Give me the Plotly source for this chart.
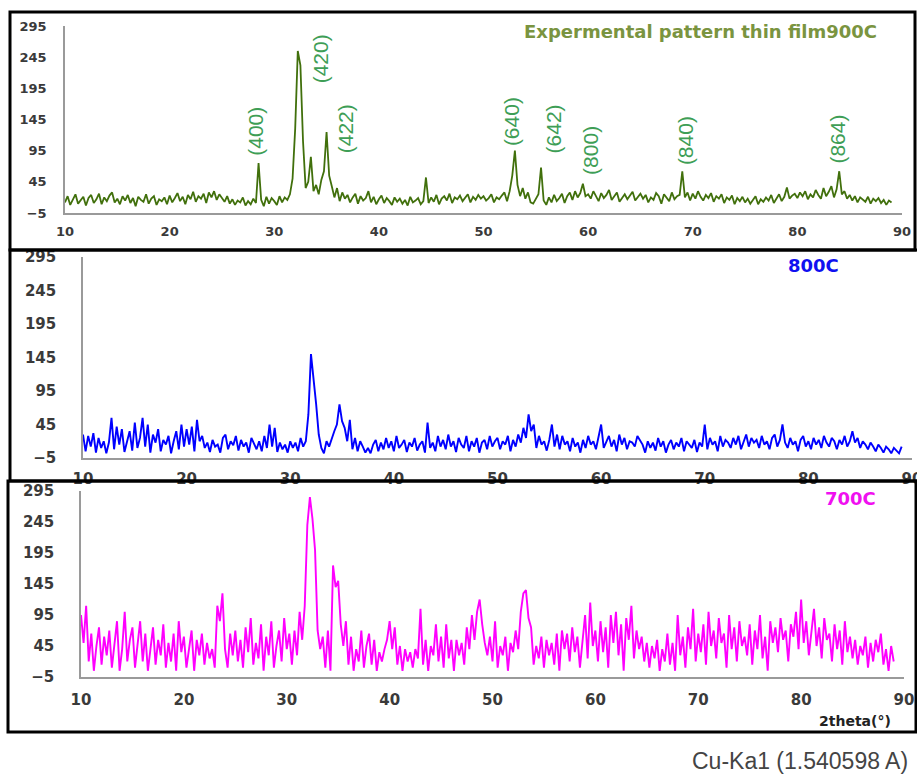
import plotly.graph_objects as go

W, H = 917, 776

# 2theta sampling grid (deg), step 0.25 from 10 to 89
two_theta_start = 10.0
two_theta_step = 0.25

i_900 = [
    12, 22, 8, 18, 25, 10, 16, 21, 7, 19, 24, 11, 17, 26, 9, 20, 14, 23, 28, 12,
    18, 9, 22, 15, 24, 11, 19, 6, 21, 16, 13, 25, 10, 18, 22, 8, 17, 14, 20, 9,
    23, 12, 19, 27, 14, 21, 9, 24, 17, 29, 13, 22, 18, 26, 11, 28, 20, 30, 16, 25,
    19, 13, 22, 10, 17, 8, 15, 12, 20, 7, 14, 9, 18, 11, 75, 16, 6, 21, 10, 19,
    14, 8, 22, 12, 20, 16, 25, 50, 130, 255, 232, 110, 35, 45, 85, 30, 40, 25, 48, 62,
    125, 55, 38, 20, 35, 14, 28, 18, 24, 12, 20, 26, 10, 22, 15, 19, 30, 12, 21, 9,
    17, 23, 11, 19, 14, 8, 20, 13, 18, 10, 16, 7, 21, 12, 15, 19, 9, 14, 52, 11,
    20, 13, 24, 9, 18, 22, 15, 26, 11, 20, 17, 23, 14, 19, 25, 12, 21, 16, 24, 18,
    22, 15, 19, 25, 12, 20, 17, 23, 28, 14, 30, 55, 95, 40, 22, 35, 18, 28, 12, 10,
    18, 25, 68, 15, 8, 20, 12, 24, 14, 19, 26, 11, 22, 28, 16, 30, 20, 27, 42, 22,
    25, 18, 30, 21, 14, 27, 19, 24, 32, 16, 22, 28, 13, 20, 25, 17, 23, 29, 15, 21,
    26, 18, 24, 12, 20, 16, 27, 22, 10, 25, 19, 14, 28, 17, 22, 24, 62, 20, 28, 15,
    26, 18, 30, 21, 15, 24, 19, 27, 13, 22, 18, 25, 11, 20, 16, 23, 9, 19, 14, 21,
    12, 18, 10, 16, 22, 9, 17, 13, 20, 15, 24, 11, 19, 25, 14, 21, 36, 18, 23, 26,
    19, 28, 22, 30, 17, 25, 20, 32, 24, 18, 35, 22, 29, 38, 20, 33, 62, 25, 30, 18,
    24, 15, 22, 12, 20, 17, 13, 21, 10, 18, 14, 19, 11, 16, 8, 15, 12,
]

# --- 800C pattern ---
i_800 = [
    30, 5, 28, 12, 32, 3, 25, 10, 20, 2, 18, 55, 8, 42, 15, 38, 4, 22, 35, 6,
    48, 10, 25, 55, 12, 45, 3, 30, 18, 38, 5, 22, 15, 28, 2, 20, 35, 8, 45, 12,
    38, 15, 42, 5, 52, 20, 28, 10, 18, 4, 22, 12, 15, 3, 25, 30, 8, 20, 14, 28,
    6, 22, 12, 18, 3, 25, 15, 8, 20, 5, 28, 10, 45, 12, 40, 4, 18, 8, 15, 3,
    20, 10, 18, 5, 25, 12, 20, 60, 150, 115, 75, 30, 10, 2, 20, 12, 25, 35, 45, 75,
    50, 40, 20, 52, 8, 25, 5, 20, 12, 3, 10, 2, 15, 22, 5, 18, 8, 25, 10, 20,
    5, 28, 10, 15, 22, 4, 18, 12, 25, 6, 15, 20, 3, 48, 10, 18, 5, 28, 12, 22,
    8, 30, 12, 20, 4, 25, 15, 10, 28, 5, 20, 12, 25, 3, 18, 22, 8, 28, 12, 20,
    25, 8, 20, 15, 28, 5, 22, 12, 30, 18, 40, 25, 60, 35, 45, 10, 28, 15, 20, 6,
    22, 45, 12, 30, 8, 28, 15, 20, 5, 25, 12, 18, 3, 22, 10, 28, 15, 20, 8, 25,
    45, 10, 20, 28, 12, 22, 5, 30, 15, 25, 8, 20, 18, 12, 28, 22, 15, 3, 20, 10,
    18, 6, 25, 12, 20, 3, 15, 22, 8, 18, 12, 25, 5, 20, 15, 10, 22, 4, 18, 12,
    45, 8, 25, 15, 20, 5, 28, 12, 22, 18, 10, 25, 15, 28, 8, 20, 30, 12, 25, 18,
    22, 10, 28, 15, 20, 8, 25, 30, 12, 22, 45, 18, 10, 25, 15, 20, 5, 22, 28, 12,
    20, 8, 25, 15, 22, 10, 28, 18, 12, 25, 20, 8, 22, 15, 28, 12, 20, 35, 18, 25,
    10, 20, 15, 8, 18, 12, 5, 15, 10, 3, 12, 8, 2, 10, 6, 2, 12,
]

# --- 700C pattern ---
i_700 = [
    95, 50, 110, 20, 65, 5, 45, 75, 15, 60, 30, 70, 10, 50, 85, 5, 40, 100, 20, 55,
    75, 10, 45, 85, 20, 65, 5, 40, 75, 15, 55, 30, 80, 10, 50, 20, 65, 5, 85, 35,
    60, 10, 45, 70, 5, 55, 30, 65, 15, 50, 25, 40, 10, 110, 85, 130, 40, 10, 65, 30,
    70, 20, 55, 10, 75, 35, 90, 15, 50, 25, 80, 5, 60, 30, 85, 10, 45, 70, 20, 90,
    40, 65, 15, 70, 30, 100, 55, 110, 240, 285, 250, 200, 70, 40, 60, 10, 70, 5, 175, 140,
    150, 80, 45, 85, 15, 60, 5, 40, 20, 70, 10, 45, 65, 15, 55, 5, 35, 20, 40, 55,
    85, 40, 75, 15, 45, 5, 40, 20, 35, 10, 40, 25, 105, 15, 55, 5, 45, 30, 80, 20,
    60, 10, 80, 25, 55, 5, 55, 30, 50, 15, 75, 40, 95, 55, 100, 120, 80, 50, 30, 60,
    20, 85, 10, 45, 30, 60, 5, 50, 35, 70, 40, 100, 130, 135, 90, 75, 15, 45, 25, 60,
    10, 55, 30, 50, 15, 65, 5, 70, 40, 65, 20, 75, 35, 60, 10, 55, 95, 25, 115, 45,
    70, 20, 85, 35, 75, 10, 95, 50, 100, 30, 80, 5, 90, 55, 110, 25, 70, 40, 60, 20,
    50, 10, 45, 25, 55, 5, 40, 20, 65, 15, 50, 5, 95, 30, 60, 10, 75, 40, 105, 20,
    65, 35, 80, 15, 100, 45, 70, 25, 90, 50, 65, 10, 95, 40, 75, 20, 85, 45, 60, 30,
    80, 15, 70, 40, 95, 25, 60, 5, 85, 50, 75, 35, 90, 55, 70, 20, 80, 60, 100, 40,
    120, 50, 85, 30, 70, 105, 45, 75, 25, 90, 55, 65, 20, 80, 40, 70, 15, 85, 35, 60,
    25, 55, 15, 45, 30, 60, 10, 50, 20, 55, 35, 65, 15, 40, 5, 45, 20,
]

# Miller-index labels of the 900C peaks and where they are written
hkl_labels = ["(400)", "(420)", "(422)", "(640)", "(642)", "(800)", "(840)", "(864)"]
hkl_label_x = [28.2, 34.4, 36.8, 52.7, 56.7, 60.2, 69.3, 83.8]
hkl_label_y = [126, 242, 130, 142, 130, 95, 111, 113]

y_ticks = [-5, 45, 95, 145, 195, 245, 295]
x_ticks = [10, 20, 30, 40, 50, 60, 70, 80, 90]


def grid(n):
    return [two_theta_start + two_theta_step * k for k in range(n)]


fig = go.Figure()
fig.add_trace(go.Scatter(x=grid(len(i_900)), y=i_900, mode="lines",
                         line=dict(color="#41700C", width=1.8),
                         xaxis="x", yaxis="y", showlegend=False))
fig.add_trace(go.Scatter(x=grid(len(i_800)), y=i_800, mode="lines",
                         line=dict(color="#0000FF", width=1.9),
                         xaxis="x2", yaxis="y2", showlegend=False))
fig.add_trace(go.Scatter(x=grid(len(i_700)), y=i_700, mode="lines",
                         line=dict(color="#FF00FF", width=1.9),
                         xaxis="x3", yaxis="y3", showlegend=False))


def px_x(p):
    return p / W


def px_y(p):
    return 1 - p / H


tick_font_small = dict(family="DejaVu Sans", size=13, color="#3a3a3a", weight="bold")
tick_font_big = dict(family="DejaVu Sans", size=15, color="#3a3a3a", weight="bold")


def xaxis(dom, anchor, font, standoff):
    return dict(domain=dom, anchor=anchor, range=[10, 90], tickvals=x_ticks,
                showgrid=False, zeroline=False, showline=True, linecolor="#9a9a9a",
                linewidth=1.5, ticks="", tickfont=font, ticklabelstandoff=standoff,
                fixedrange=True, automargin=False, ticklabeloverflow="allow")


def yaxis(dom, anchor, font, standoff):
    return dict(domain=dom, anchor=anchor, range=[-5, 295], tickvals=y_ticks,
                showgrid=False, zeroline=False, showline=True, linecolor="#9a9a9a",
                linewidth=1.5, ticks="", tickfont=font, ticklabelstandoff=standoff,
                fixedrange=True, automargin=False)


layout = dict(
    width=W, height=H, autosize=False,
    margin=dict(l=0, r=0, t=0, b=0, pad=0),
    paper_bgcolor="white", plot_bgcolor="white",
    showlegend=False,
    xaxis=xaxis([px_x(65), px_x(902)], "y", tick_font_small, 6),
    yaxis=yaxis([px_y(213), px_y(26)], "x", tick_font_small, 14),
    xaxis2=xaxis([px_x(83), px_x(912)], "y2", tick_font_big, 6),
    yaxis2=yaxis([px_y(458), px_y(257)], "x2", tick_font_big, 22),
    xaxis3=xaxis([px_x(81), px_x(904)], "y3", tick_font_big, 8),
    yaxis3=yaxis([px_y(677), px_y(491)], "x3", tick_font_big, 22),
)
fig.update_layout(**layout)

# Panel frames
frames = [(10, 12, 915, 250), (10, 250, 925, 481), (8, 481, 916, 732)]
for (x0, y0, x1, y1) in frames:
    fig.add_shape(type="rect", xref="paper", yref="paper",
                  x0=px_x(x0), x1=px_x(x1), y0=px_y(y1), y1=px_y(y0),
                  line=dict(color="black", width=3), fillcolor="rgba(0,0,0,0)")

# hkl labels
for lab, lx, ly in zip(hkl_labels, hkl_label_x, hkl_label_y):
    fig.add_annotation(x=lx, y=ly, xref="x", yref="y", text=lab, showarrow=False,
                       xanchor="center", yanchor="middle",
                       textangle=-90, font=dict(family="Liberation Sans", size=21, color="#3E9E56"))


def label(px, py, text, font):
    fig.add_annotation(x=px_x(px), y=px_y(py), xref="paper", yref="paper",
                       text=text, showarrow=False, xanchor="center", yanchor="middle",
                       font=font)


label(700, 32, "Expermental pattern thin film900C",
      dict(family="DejaVu Sans", size=18, color="#7A9440", weight="bold"))
label(813, 265, "800C", dict(family="DejaVu Sans", size=18, color="#1010F0", weight="bold"))
label(850, 498, "700C", dict(family="DejaVu Sans", size=18, color="#F010F0", weight="bold"))
label(855, 721, "2theta(°)", dict(family="DejaVu Sans", size=14, color="#222222", weight="bold"))
label(800, 761, "Cu-Ka1 (1.540598 A)",
      dict(family="Liberation Sans Narrow, Liberation Sans", size=23, color="#444444"))

fig.write_html("out.html")
